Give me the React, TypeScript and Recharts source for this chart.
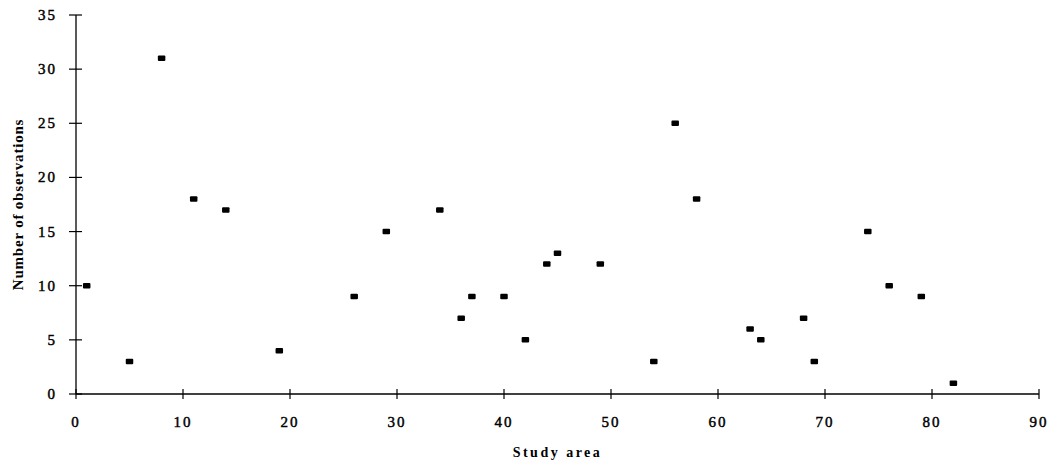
import { ScatterChart, Scatter, XAxis, YAxis } from 'recharts';

const studyArea = [1, 5, 8, 11, 14, 19, 26, 29, 34, 36, 37, 40, 42, 44, 45, 49, 54, 56, 58, 63, 64, 68, 69, 74, 76, 79, 82];
const observations = [10, 3, 31, 18, 17, 4, 9, 15, 17, 7, 9, 9, 5, 12, 13, 12, 3, 25, 18, 6, 5, 7, 3, 15, 10, 9, 1];
const xTicks = [0, 10, 20, 30, 40, 50, 60, 70, 80, 90];
const yTicks = [0, 5, 10, 15, 20, 25, 30, 35];

const data = studyArea.map((x, i) => ({ x, y: observations[i] }));

const FONT = '"Liberation Serif", "Times New Roman", serif';

// ticks cross the axis line, so draw them ourselves
const XTick = ({ x, y, payload }: any) => (
  <g>
    <line x1={x} y1={y - 5} x2={x} y2={y + 5} stroke="#000" strokeWidth={1.2} />
    <text
      x={x}
      y={y + 33}
      textAnchor="middle"
      fontFamily={FONT}
      fontSize={15}
      letterSpacing={2}
      fill="#000"
      stroke="#000"
      strokeWidth={0.45}
    >
      {payload.value}
    </text>
  </g>
);

const YTick = ({ x, y, payload }: any) => (
  <g>
    <line x1={x - 7} y1={y} x2={x + 6} y2={y} stroke="#000" strokeWidth={1.2} />
    <text
      x={x - 19}
      y={y + 5}
      textAnchor="end"
      fontFamily={FONT}
      fontSize={15}
      letterSpacing={2}
      fill="#000"
      stroke="#000"
      strokeWidth={0.45}
    >
      {payload.value}
    </text>
  </g>
);

const YLabel = ({ viewBox }: any) => {
  const cx = 23;
  const cy = viewBox.y + viewBox.height / 2;
  return (
    <text
      x={cx}
      y={cy}
      transform={`rotate(-90, ${cx}, ${cy})`}
      textAnchor="middle"
      fontFamily={FONT}
      fontSize={15}
      fontWeight="bold"
      letterSpacing={0.8}
      fill="#000"
    >
      Number of observations
    </text>
  );
};

const XLabel = ({ viewBox }: any) => (
  <text
    x={viewBox.x + viewBox.width / 2}
    y={457}
    textAnchor="middle"
    fontFamily={FONT}
    fontSize={14}
    fontWeight="bold"
    letterSpacing={2.5}
    fill="#000"
  >
    Study area
  </text>
);

const Marker = ({ cx, cy }: any) => (
  <rect x={cx - 3.75} y={cy - 2.75} width={7.5} height={5.5} rx={1} fill="#000" />
);

export default function App() {
  return (
    <div style={{ position: 'absolute', left: 0, top: 0, background: '#fff' }}>
      <ScatterChart width={1057} height={461} margin={{ top: 15, right: 18, bottom: 0, left: 0 }}>
        <XAxis
          type="number"
          dataKey="x"
          domain={[0, 90]}
          ticks={xTicks}
          height={67}
          tickSize={0}
          tickMargin={0}
          tickLine={false}
          axisLine={{ stroke: '#000', strokeWidth: 1.3 }}
          tick={<XTick />}
          interval={0}
          label={<XLabel />}
        />
        <YAxis
          type="number"
          dataKey="y"
          domain={[0, 35]}
          ticks={yTicks}
          width={76}
          tickSize={0}
          tickMargin={0}
          tickLine={false}
          axisLine={{ stroke: '#000', strokeWidth: 1.3 }}
          tick={<YTick />}
          interval={0}
          label={<YLabel />}
        />
        <Scatter data={data} fill="#000" shape={<Marker />} isAnimationActive={false} />
      </ScatterChart>
    </div>
  );
}
